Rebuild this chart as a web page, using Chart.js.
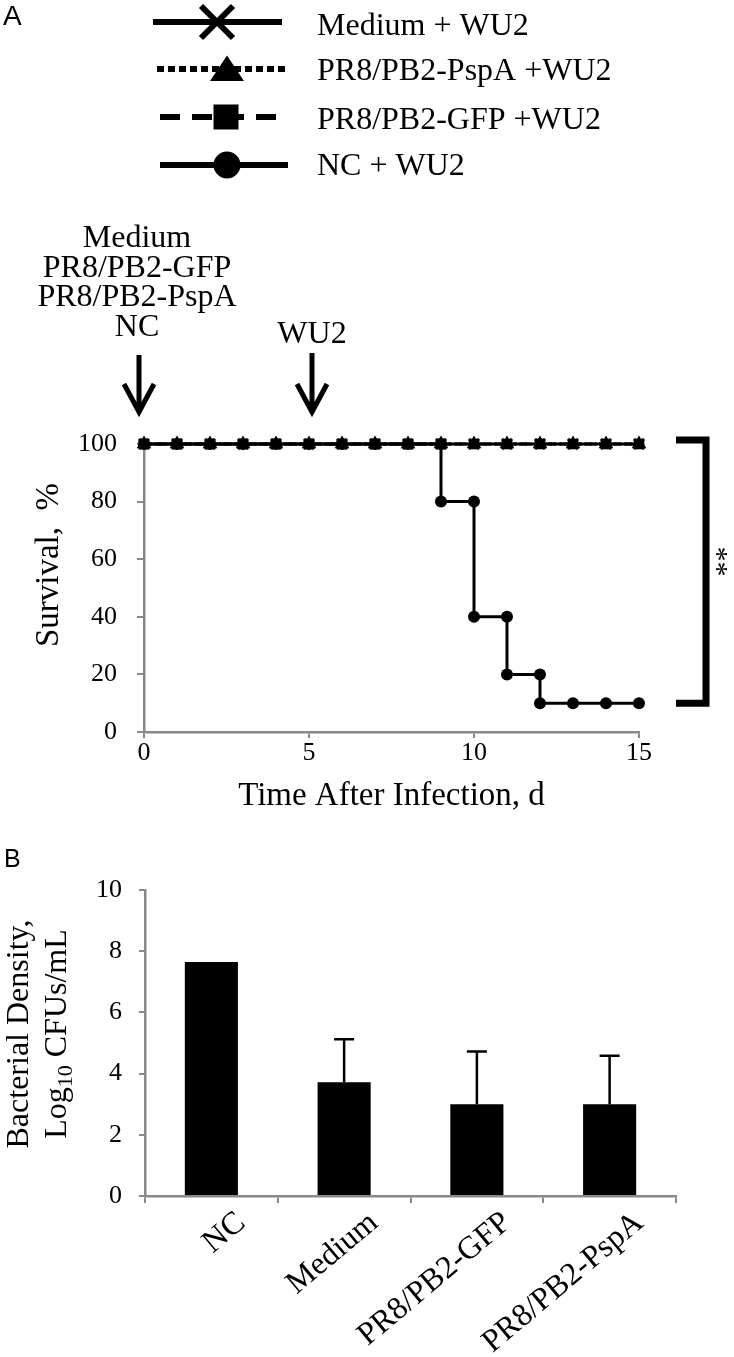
<!DOCTYPE html>
<html lang="en">
<head>
<meta charset="UTF-8">
<title>Survival and bacterial density after WU2 challenge</title>
<script src="https://cdn.jsdelivr.net/npm/chart.js"></script>
<style>
  body { margin: 0; background: #fff; }
  #wrapA { position: absolute; left: 0; top: 0; width: 734px; height: 830px; }
  #wrapB { position: absolute; left: 0; top: 830px; width: 734px; height: 527px; }
</style>
</head>
<body>
<div id="wrapA"><canvas id="survivalChart"></canvas></div>
<div id="wrapB"><canvas id="densityChart"></canvas></div>
<script>
// ---- panel A data ----
const days = [0, 1, 2, 3, 4, 5, 6, 7, 8, 9, 10, 11, 12, 13, 14, 15];
const ncDays = [0, 1, 2, 3, 4, 5, 6, 7, 8, 9, 9, 10, 10, 11, 11, 12, 12, 13, 14, 15];
const ncSurvival = [100, 100, 100, 100, 100, 100, 100, 100, 100, 100, 80, 80, 40, 40, 20, 20, 10, 10, 10, 10];
const mediumSurvival = [100, 100, 100, 100, 100, 100, 100, 100, 100, 100, 100, 100, 100, 100, 100, 100];
const pspaSurvival = [100, 100, 100, 100, 100, 100, 100, 100, 100, 100, 100, 100, 100, 100, 100, 100];
const gfpSurvival = [100, 100, 100, 100, 100, 100, 100, 100, 100, 100, 100, 100, 100, 100, 100, 100];
const treatmentLines = ['Medium', 'PR8/PB2-GFP', 'PR8/PB2-PspA', 'NC'];
const treatmentDay = 0;
const challengeDay = 5;
const bracketRange = [100, 10];

// ---- panel B data ----
const groups = ['NC', 'Medium', 'PR8/PB2-GFP', 'PR8/PB2-PspA'];
const densityMean = [7.65, 3.72, 3.0, 3.0];
const densityErr = [0, 1.4, 1.72, 1.58];

const SERIF = "'Liberation Serif', 'Times New Roman', serif";
const SANS = "'Liberation Sans', Arial, sans-serif";
const AXIS_GRAY = '#888888';
Chart.defaults.font.family = SERIF;
Chart.defaults.color = '#000';

const toXY = (xs, ys) => xs.map((x, i) => ({ x: x, y: ys[i] }));

function drawMarker(ctx, style, x, y, r, lw) {
  ctx.save();
  ctx.fillStyle = '#000';
  ctx.strokeStyle = '#000';
  ctx.setLineDash([]);
  ctx.beginPath();
  if (style === 'circle') {
    ctx.arc(x, y, r, 0, Math.PI * 2);
    ctx.fill();
  } else if (style === 'triangle') {
    ctx.moveTo(x, y - r * 0.8);
    ctx.lineTo(x + r, y + r * 0.7);
    ctx.lineTo(x - r, y + r * 0.7);
    ctx.closePath();
    ctx.fill();
  } else if (style === 'rect') {
    ctx.fillRect(x - r, y - r, r * 2, r * 2);
  } else if (style === 'crossRot') {
    ctx.lineWidth = lw;
    ctx.moveTo(x - r, y - r); ctx.lineTo(x + r, y + r);
    ctx.moveTo(x + r, y - r); ctx.lineTo(x - r, y + r);
    ctx.stroke();
  }
  ctx.restore();
}

// legend rows in the order they appear on the figure
const legendRows = [
  { name: 'Medium + WU2', style: 'crossRot', dash: [], y: 22, r: 16, x0: 153, x1: 282, mx: 217 },
  { name: 'PR8/PB2-PspA +WU2', style: 'triangle', dash: [7, 4], y: 69, r: 17, x0: 157, x1: 285, mx: 227 },
  { name: 'PR8/PB2-GFP +WU2', style: 'rect', dash: [20, 12], y: 117, r: 12.5, x0: 160, x1: 288, mx: 226 },
  { name: 'NC + WU2', style: 'circle', dash: [], y: 165, r: 13.5, x0: 160, x1: 288, mx: 227 }
];
const legendBaselines = [35, 80, 129, 175];

function arrowDown(ctx, x, y0, y1) {
  ctx.save();
  ctx.strokeStyle = '#000';
  ctx.lineWidth = 5;
  ctx.beginPath();
  ctx.moveTo(x, y0); ctx.lineTo(x, y1 - 2);
  ctx.moveTo(x - 15, y1 - 28); ctx.lineTo(x, y1); ctx.lineTo(x + 15, y1 - 28);
  ctx.stroke();
  ctx.restore();
}

const panelAExtras = {
  id: 'panelAExtras',
  afterDraw(chart) {
    const ctx = chart.ctx;
    const xs = chart.scales.x, ys = chart.scales.y;
    ctx.save();
    ctx.fillStyle = '#000';
    // panel letter
    ctx.font = '28px ' + SANS;
    ctx.textAlign = 'left';
    ctx.textBaseline = 'top';
    ctx.fillText('A', 3, 3);

    // legend
    legendRows.forEach((row, i) => {
      ctx.save();
      ctx.strokeStyle = '#000';
      ctx.lineWidth = 6;
      ctx.setLineDash(row.dash);
      ctx.beginPath();
      ctx.moveTo(row.x0, row.y);
      ctx.lineTo(row.x1, row.y);
      ctx.stroke();
      ctx.restore();
      drawMarker(ctx, row.style, row.mx, row.y, row.r, 6);
      ctx.font = '32px ' + SERIF;
      ctx.textAlign = 'left';
      ctx.textBaseline = 'alphabetic';
      ctx.fillText(row.name, 317, legendBaselines[i]);
    });

    // treatment / challenge annotations
    const xt = xs.getPixelForValue(treatmentDay) - 5;
    const xc = xs.getPixelForValue(challengeDay) + 3;
    ctx.font = '32px ' + SERIF;
    ctx.textAlign = 'center';
    ctx.textBaseline = 'alphabetic';
    treatmentLines.forEach((t, i) => ctx.fillText(t, xt - 2, 247 + i * 29.5));
    ctx.fillText('WU2', xc, 343);
    arrowDown(ctx, xt, 355, 412);
    arrowDown(ctx, xc, 353, 412);

    // significance bracket
    const yTop = ys.getPixelForValue(bracketRange[0]) - 4;
    const yBot = ys.getPixelForValue(bracketRange[1]);
    ctx.strokeStyle = '#000';
    ctx.lineWidth = 7;
    ctx.lineJoin = 'miter';
    ctx.beginPath();
    ctx.moveTo(676, yTop);
    ctx.lineTo(706, yTop);
    ctx.lineTo(706, yBot);
    ctx.lineTo(676, yBot);
    ctx.stroke();
    ctx.save();
    ctx.translate(708, (yTop + yBot) / 2 - 10);
    ctx.rotate(Math.PI / 2);
    ctx.font = '30px ' + SERIF;
    ctx.textAlign = 'center';
    ctx.textBaseline = 'alphabetic';
    ctx.fillText('**', 0, 0);
    ctx.restore();

    // axis titles
    ctx.font = '33px ' + SERIF;
    ctx.textAlign = 'center';
    ctx.textBaseline = 'alphabetic';
    ctx.fillText('Time After Infection, d', (chart.chartArea.left + chart.chartArea.right) / 2, 805);
    ctx.save();
    ctx.translate(58, 565);
    ctx.rotate(-Math.PI / 2);
    ctx.fillText('Survival,  %', 0, 0);
    ctx.restore();
    ctx.restore();
  }
};

const pointOpts = { borderColor: '#000', backgroundColor: '#000', pointBorderColor: '#000', pointBackgroundColor: '#000', clip: false, fill: false };
const tickFont = { family: SERIF, size: 26 };

new Chart(document.getElementById('survivalChart'), {
  type: 'line',
  data: {
    datasets: [
      Object.assign({ label: 'NC + WU2', data: toXY(ncDays, ncSurvival), borderWidth: 3, pointStyle: 'circle', pointRadius: 6, pointBorderWidth: 0 }, pointOpts),
      Object.assign({ label: 'PR8/PB2-PspA +WU2', data: toXY(days, pspaSurvival), borderWidth: 3, borderDash: [3, 2], pointStyle: 'triangle', pointRadius: 8.5, pointBorderWidth: 0 }, pointOpts),
      Object.assign({ label: 'PR8/PB2-GFP +WU2', data: toXY(days, gfpSurvival), borderWidth: 3, borderDash: [8, 5], pointStyle: 'rect', pointRadius: 7.5, pointBorderWidth: 0 }, pointOpts),
      Object.assign({ label: 'Medium + WU2', data: toXY(days, mediumSurvival), borderWidth: 3, pointStyle: 'crossRot', pointRadius: 7, pointBorderWidth: 3 }, pointOpts)
    ]
  },
  options: {
    responsive: true,
    maintainAspectRatio: false,
    animation: false,
    layout: { autoPadding: false, padding: { left: 0, right: 95, top: 444, bottom: 0 } },
    plugins: { legend: { display: false }, tooltip: { enabled: false } },
    scales: {
      x: {
        type: 'linear', min: 0, max: 15,
        ticks: { stepSize: 5, font: tickFont, color: '#000', padding: 0 },
        grid: { drawOnChartArea: false, color: AXIS_GRAY, lineWidth: 2, tickLength: 6 },
        border: { color: AXIS_GRAY, width: 2.5 },
        afterFit: s => { s.height = 98; }
      },
      y: {
        min: 0, max: 100,
        ticks: { stepSize: 20, font: tickFont, color: '#000', padding: 20 },
        grid: { drawOnChartArea: false, color: AXIS_GRAY, lineWidth: 2, tickLength: 7 },
        border: { color: AXIS_GRAY, width: 2.5 },
        afterFit: s => { s.width = 144; }
      }
    }
  },
  plugins: [panelAExtras]
});

// ---- panel B ----
const panelBExtras = {
  id: 'panelBExtras',
  afterDatasetsDraw(chart) {
    const ctx = chart.ctx;
    const ys = chart.scales.y;
    const meta = chart.getDatasetMeta(0);
    ctx.save();
    ctx.strokeStyle = '#000';
    ctx.lineWidth = 2.5;
    meta.data.forEach((bar, i) => {
      if (!densityErr[i]) return;
      const yTop = ys.getPixelForValue(densityMean[i] + densityErr[i]);
      ctx.beginPath();
      ctx.moveTo(bar.x, bar.y);
      ctx.lineTo(bar.x, yTop);
      ctx.moveTo(bar.x - 10, yTop);
      ctx.lineTo(bar.x + 10, yTop);
      ctx.stroke();
    });
    ctx.restore();
  },
  afterDraw(chart) {
    const ctx = chart.ctx;
    ctx.save();
    ctx.fillStyle = '#000';
    ctx.font = '25px ' + SANS;
    ctx.textAlign = 'left';
    ctx.textBaseline = 'top';
    ctx.fillText('B', 4, 18);

    // two-line rotated y title with subscript
    const cy = 204;
    ctx.translate(0, cy);
    ctx.rotate(-Math.PI / 2);
    ctx.font = '32px ' + SERIF;
    ctx.textAlign = 'center';
    ctx.textBaseline = 'alphabetic';
    ctx.fillText('Bacterial Density,', 0, 28);
    const big = '32px ' + SERIF, small = '22px ' + SERIF;
    ctx.font = big;
    const wLog = ctx.measureText('Log').width;
    const wRest = ctx.measureText(' CFUs/mL').width;
    ctx.font = small;
    const wSub = ctx.measureText('10').width;
    let x = -(wLog + wSub + wRest) / 2;
    ctx.textAlign = 'left';
    ctx.font = big;
    ctx.fillText('Log', x, 66);
    x += wLog;
    ctx.font = small;
    ctx.fillText('10', x, 72);
    x += wSub;
    ctx.font = big;
    ctx.fillText(' CFUs/mL', x, 66);
    ctx.restore();
  }
};

new Chart(document.getElementById('densityChart'), {
  type: 'bar',
  data: {
    labels: groups,
    datasets: [{
      data: densityMean,
      backgroundColor: '#000',
      borderWidth: 0,
      barPercentage: 0.4,
      categoryPercentage: 1
    }]
  },
  options: {
    responsive: true,
    maintainAspectRatio: false,
    animation: false,
    layout: { autoPadding: false, padding: { left: 0, right: 58, top: 60, bottom: 0 } },
    plugins: { legend: { display: false }, tooltip: { enabled: false } },
    scales: {
      x: {
        ticks: { font: { family: SERIF, size: 32 }, color: '#000', minRotation: 40, maxRotation: 40, autoSkip: false, padding: 1, labelOffset: 30 },
        grid: { drawOnChartArea: false, color: AXIS_GRAY, lineWidth: 2, tickLength: 7, offset: true },
        border: { color: AXIS_GRAY, width: 2.5 },
        afterFit: s => { s.height = 161; }
      },
      y: {
        min: 0, max: 10,
        ticks: { stepSize: 2, font: tickFont, color: '#000', padding: 17 },
        grid: { drawOnChartArea: false, color: AXIS_GRAY, lineWidth: 2, tickLength: 6 },
        border: { color: AXIS_GRAY, width: 2.5 },
        afterFit: s => { s.width = 145; }
      }
    }
  },
  plugins: [panelBExtras]
});
</script>
</body>
</html>
